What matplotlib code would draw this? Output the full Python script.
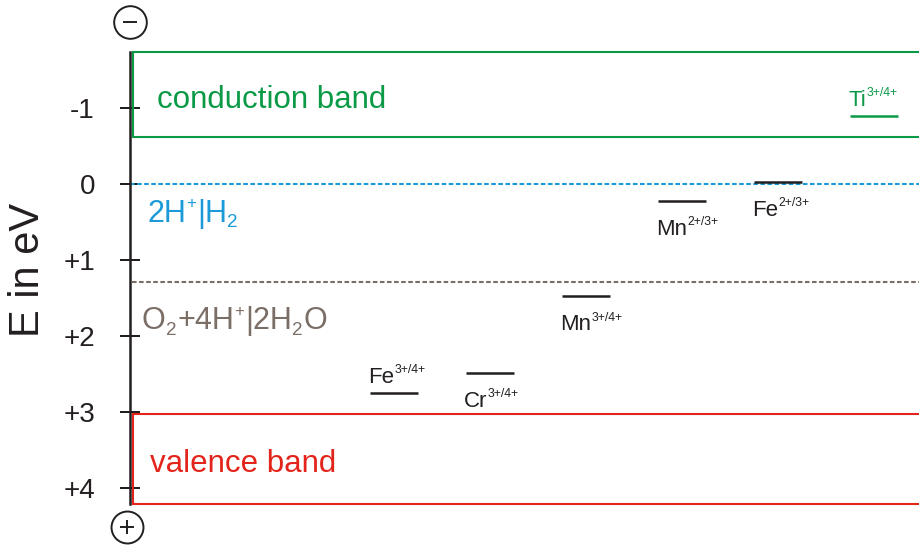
import matplotlib
matplotlib.use("Agg")
import matplotlib.pyplot as plt
from matplotlib import transforms

# band edges in eV (top, bottom of the box); y axis is inverted (negative up)
conduction_band = (-1.74, -0.62)
valence_band = (3.03, 4.22)

# reference redox potentials
h2_level = 0.0
o2_level = 1.29

# dopant levels, left to right
ions = ["Fe", "Cr", "Mn", "Mn", "Fe", "Ti"]
charges = ["3+/4+", "3+/4+", "3+/4+", "2+/3+", "2+/3+", "3+/4+"]
levels = [2.75, 2.49, 1.48, 0.22, -0.03, -0.90]

yticks = [-1, 0, 1, 2, 3, 4]
ytick_labels = ["-1", "0", "+1", "+2", "+3", "+4"]

GREEN = "#0a9a46"
RED = "#e3241b"
BLUE = "#1a9ad9"
GRAY = "#7a6e67"
BLACK = "#231f20"

plt.rcParams["font.family"] = ["Liberation Sans", "DejaVu Sans"]

fig = plt.figure(figsize=(9.2, 5.46), dpi=100)
ax = fig.add_axes([130 / 920, 0.0764, 790 / 920, 0.8286])
ax.set_xlim(-2.75, 5.48)
ax.set_ylim(valence_band[1], conduction_band[0])
renderer = fig.canvas.get_renderer()


def rich_text(x, y, parts, size, color, sub_scale=0.62):
    """Place text pieces side by side; kind 'n', 'sup' or 'sub'."""
    dx = 0.0
    for s, kind in parts:
        if kind == "n":
            fs, dy = size, 0.0
        elif kind == "sup":
            fs, dy = size * 0.55, size * 0.44
        else:
            fs, dy = size * sub_scale, -size * 0.17
        tr = transforms.offset_copy(ax.transData, fig=fig, x=dx, y=dy, units="points")
        t = ax.text(x, y, s, transform=tr, fontsize=fs, color=color,
                    va="baseline", ha="left")
        # ink width plus a small gap
        dx += t.get_window_extent(renderer).width * 72 / fig.dpi + 0.3


for s in ["top", "right", "bottom"]:
    ax.spines[s].set_visible(False)
ax.spines["left"].set_linewidth(1.8)
ax.spines["left"].set_color(BLACK)
ax.set_xticks([])
ax.set_yticks(yticks, ytick_labels)
ax.tick_params(axis="y", direction="inout", length=14.4, width=1.44,
               pad=18, labelsize=20, colors=BLACK)

# bands as open-ended boxes
x_left, x_right = -2.72, 6.0
for (top, bot), col, name, tx, base in [
    (conduction_band, GREEN, "conduction band", -2.47, -1.0),
    (valence_band, RED, "valence band", -2.54, 3.80),
]:
    ax.plot([x_right, x_left, x_left, x_right], [top, top, bot, bot],
            color=col, lw=1.5, clip_on=False, solid_joinstyle="miter")
    ax.text(tx, base, name, color=col, fontsize=22.5, va="baseline", ha="left")

# reference potentials
ax.axhline(h2_level, color=BLUE, lw=1.5, ls=(0, (2.2, 1.2)))
ax.axhline(o2_level, xmin=0.003, color=GRAY, lw=1.5, ls=(0, (2.2, 1.2)))
rich_text(-2.57, h2_level + 0.50,
          [("2H", "n"), ("+", "sup"), ("|H", "n"), ("2", "sub")], 22, BLUE)
rich_text(-2.625, o2_level + 0.625,
          [("O", "n"), ("2", "sub"), ("+4H", "n"), ("+", "sup"),
           ("|2H", "n"), ("2", "sub"), ("O", "n")], 22, GRAY)

# dopant levels
above = [True, False, False, False, False, True]
for i, (ion, ch, lv) in enumerate(zip(ions, charges, levels)):
    col = GREEN if ion == "Ti" else BLACK
    ax.hlines(lv, i - 0.25, i + 0.25, color=col, lw=1.8)
    y = lv - 0.13 if above[i] else lv + 0.45
    rich_text(i - 0.27, y, [(ion, "n"), (ch, "sup")], 16, col)

# y label
fig.text(28 / 920, 1 - 270 / 546, "E in eV", rotation=90, fontsize=30,
         ha="center", va="center", color=BLACK)

# minus / plus signs at the axis ends
ax.plot(-2.75, -2.128, marker="o", ms=23.5, mfc="none", mec=BLACK, mew=1.4,
        clip_on=False)
ax.plot(-2.75, -2.128, marker="_", ms=10.5, mec=BLACK, mew=1.4, clip_on=False)
ax.plot(-2.78, 4.52, marker="o", ms=23, mfc="none", mec=BLACK, mew=1.4,
        clip_on=False)
ax.plot(-2.78, 4.52, marker="+", ms=10, mec=BLACK, mew=1.4, clip_on=False)

fig.savefig("out.png", dpi=100)
